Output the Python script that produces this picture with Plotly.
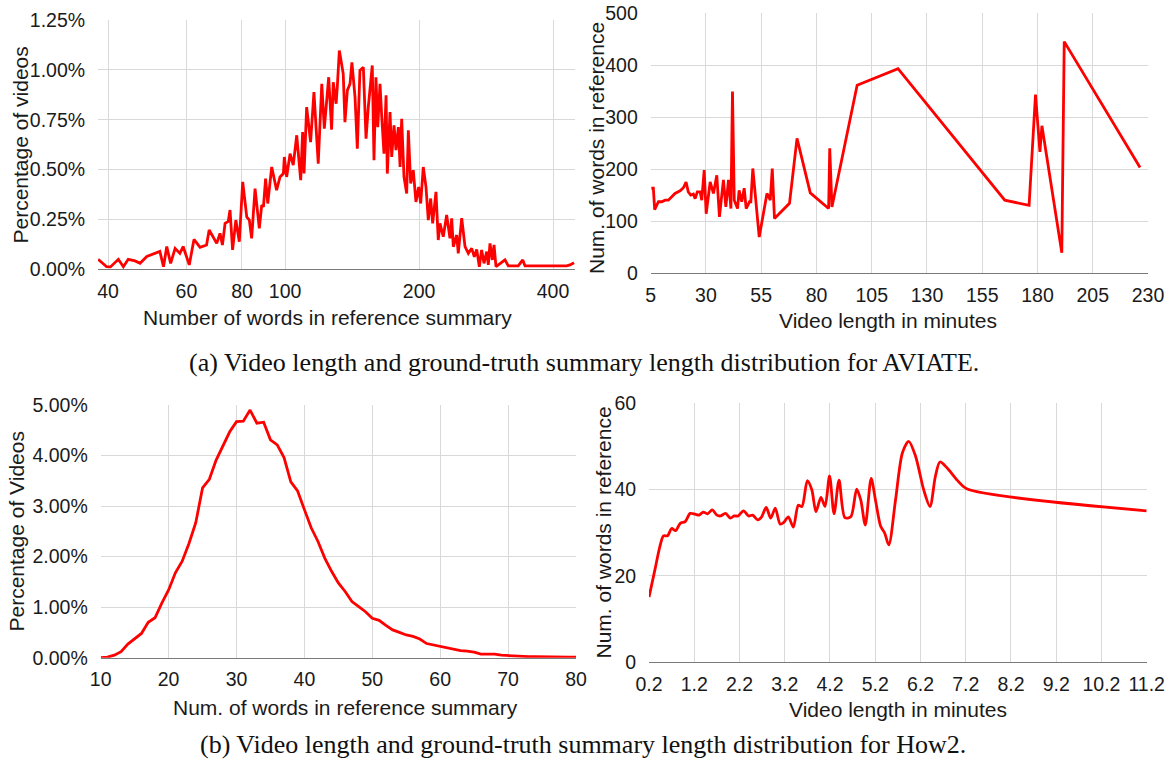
import plotly.graph_objects as go

# ---------------- data ----------------
# (a) AVIATE: summary length distribution
aviate_words = [38, 39.7, 40.5, 42.2, 43.3, 44.4, 46, 47.2, 48.9, 51, 52.3, 53.3, 54.2, 55.3, 56.6, 58, 59,
                60.9, 62.4, 64.4, 66.6, 67.5, 69, 70.2, 71.4, 72.3, 73.3, 74.5,
                75.2, 76.2, 77.5, 78.9, 80.3, 82.0, 83.1, 84.1, 85.6, 87.5, 88.6, 89.4, 90.4, 91.4, 93.3,
                95.7, 97.4, 99.1, 99.6, 100.8, 102.6, 104.3, 106.2, 108.4, 109.5, 110.3, 111.8, 114.1,
                116.1, 118.7, 120.9, 122.5, 125.3, 127.2, 128.3, 130.2, 131.0, 132.4,
                135.1, 136.3, 138.0, 139.9, 141.3, 143.6, 145.3, 147.3, 149.9, 152.0, 153.8, 157.0, 158.4,
                160.0, 161.5, 163.4, 164.9, 166.8, 168.6, 169.7, 172.1, 173.6, 175.7, 177.5, 179.7, 181.3,
                182.8, 185.0, 187.6, 189.2, 191.5, 194.1, 196.8, 199.6, 201.7, 204.4, 207.3, 209.8, 212.4,
                214.6, 218.3, 220.9, 222.9, 226.7, 230.7, 234.7, 236.8, 238.8, 243.0, 245.0,
                249.4, 253.7, 258.1, 262.6, 266.2, 269.5, 273.2, 276.5, 279.9, 283.8, 286.2, 288.7, 292.2,
                294.8, 297.8, 304.1, 312.0, 317.4, 325.7, 334.2, 342.0, 346.1, 361.3, 429.5, 436.8, 446]
aviate_pct = [0.05, 0.013, 0.012, 0.05, 0.013, 0.05, 0.042, 0.03, 0.064, 0.08, 0.09, 0.013, 0.114, 0.03, 0.105, 0.08, 0.114,
              0.022, 0.15, 0.11, 0.122, 0.197, 0.16, 0.13, 0.18, 0.122, 0.23, 0.24,
              0.297, 0.097, 0.247, 0.138, 0.438, 0.263, 0.247, 0.155, 0.405, 0.205, 0.322, 0.313, 0.455, 0.33, 0.513,
              0.397, 0.463, 0.48, 0.563, 0.463, 0.58, 0.522, 0.672, 0.447, 0.688, 0.48, 0.813, 0.638,
              0.888, 0.53, 0.93, 0.705, 0.963, 0.70, 0.938, 0.83, 0.913, 1.097,
              0.98, 0.738, 0.897, 0.93, 1.038, 0.863, 0.605, 0.997, 1.013, 0.655, 0.813, 1.022, 0.547,
              0.963, 0.713, 0.93, 0.763, 0.58, 0.872, 0.48, 0.788, 0.563, 0.722, 0.597, 0.713, 0.513,
              0.755, 0.463, 0.38, 0.697, 0.43, 0.497, 0.338, 0.413, 0.33, 0.513, 0.413, 0.247, 0.355,
              0.23, 0.388, 0.147, 0.23, 0.163, 0.272, 0.155, 0.255, 0.113, 0.172, 0.08,
              0.257, 0.114, 0.08, 0.105, 0.063, 0.1, 0.013, 0.097, 0.03, 0.089, 0.022, 0.13, 0.047,
              0.122, 0.013, 0.027, 0.047, 0.017, 0.017, 0.017, 0.047, 0.017, 0.017, 0.017, 0.022, 0.033]

# (a) AVIATE: video length vs summary words
aviate_len = [5.3, 6.2, 6.8, 8.5, 10, 11.5, 13, 14, 16, 18.3, 19.8, 21, 22, 23.1, 24.3, 25.1, 26.1, 27.4, 28.1,
              29.2, 30.1, 31.9, 33.4, 34.9, 36.1, 37.9, 39, 40.2, 41.3, 42, 42.8, 44.3, 45, 46.2, 47.3, 48.2,
              49.7, 50.3, 51.2, 54.1, 57.6, 59.1, 60, 61, 67.8, 71.2, 77.2, 85.5, 86, 87, 98.4, 116.9, 165.2,
              176.2, 179.1, 181.1, 182, 191, 192.1, 226.4]
aviate_len_words = [163, 163, 122, 137, 137, 140, 140, 145, 153, 158, 164, 175, 156, 150, 152, 143, 156, 156, 140,
                    198, 114, 175, 153, 188, 108, 179, 127, 179, 124, 349, 140, 124, 159, 137, 163, 124,
                    137, 137, 201, 69, 153, 140, 201, 105, 134, 259, 154, 124, 240, 127, 361, 393, 140,
                    130, 343, 233, 283, 39, 445, 203]

# (b) How2: summary length distribution
how2_words = list(range(10, 81))
how2_pct = [0.0, 0.01, 0.05, 0.12, 0.27, 0.38, 0.48, 0.70, 0.79, 1.08,
            1.34, 1.68, 1.91, 2.26, 2.67, 3.36, 3.53, 3.91, 4.19, 4.47,
            4.67, 4.68, 4.90, 4.64, 4.66, 4.31, 4.21, 3.96, 3.48, 3.30,
            2.93, 2.57, 2.30, 1.97, 1.71, 1.48, 1.31, 1.11, 1.01, 0.91,
            0.78, 0.74, 0.64, 0.55, 0.50, 0.45, 0.42, 0.37, 0.28, 0.25,
            0.23, 0.20, 0.17, 0.14, 0.13, 0.11, 0.07, 0.07, 0.07, 0.05,
            0.04, 0.03, 0.03, 0.02, 0.02, 0.015, 0.01, 0.01, 0.01, 0.01, 0.01]

# (b) How2: video length vs summary words
how2_len = [0.2, 0.33, 0.44, 0.52, 0.61, 0.70, 0.79, 0.89, 1.0, 1.11, 1.22, 1.31, 1.40, 1.49, 1.60, 1.70, 1.78,
            1.89, 2.0, 2.08, 2.17, 2.29, 2.40, 2.49, 2.6, 2.69, 2.79, 2.89, 2.99, 3.10, 3.18, 3.28, 3.39,
            3.50, 3.58, 3.70, 3.80, 3.89, 4.0, 4.09, 4.19, 4.29, 4.40, 4.53, 4.66, 4.79, 4.88, 4.98, 5.11,
            5.21, 5.32, 5.41, 5.50, 5.65, 5.80, 5.94, 6.09, 6.27, 6.41, 6.53, 6.63, 6.79, 7.01, 7.22, 11.2]
how2_len_words = [15.1, 21.4, 26.8, 29.3, 29.3, 31.0, 30.5, 32.2, 32.6, 34.5, 34.3, 34.1, 34.8, 34.4, 35.3, 34.1, 33.9,
                  34.5, 33.4, 33.9, 33.9, 35.1, 33.9, 34.1, 33.0, 33.7, 35.9, 33.4, 35.7, 32.0, 32.4, 33.7, 31.3,
                  36.4, 36.1, 42.1, 39.9, 34.9, 38.2, 36.1, 43.2, 34.4, 42.2, 33.5, 33.7, 40.1, 37.6, 31.8, 42.6,
                  37.3, 31.5, 29.9, 27.2, 37.7, 48.5, 51.2, 47.8, 40.0, 36.1, 43.1, 46.4, 45.0, 42.2, 40.2, 35.1]

# tick labels
tl_xticks = [40, 60, 80, 100, 200, 400]
tl_yticks = [0, 0.25, 0.5, 0.75, 1.0, 1.25]
tr_xticks = [5, 30, 55, 80, 105, 130, 155, 180, 205, 230]
tr_yticks = [0, 100, 200, 300, 400, 500]
bl_xticks = [10, 20, 30, 40, 50, 60, 70, 80]
bl_yticks = [0, 1, 2, 3, 4, 5]
br_xticks = [0.2, 1.2, 2.2, 3.2, 4.2, 5.2, 6.2, 7.2, 8.2, 9.2, 10.2, 11.2]
br_yticks = [0, 20, 40, 60]

caption_a = "(a) Video length and ground-truth summary length distribution for AVIATE."
caption_b = "(b) Video length and ground-truth summary length distribution for How2."

# ---------------- figure ----------------
W, H = 1173, 764
RED = "#ff0000"
GRID = "#d9d9d9"
AXLINE = "#7a7a7a"
TXT = "#1a1a1a"
TICKFONT = dict(family="Liberation Sans, Arial, sans-serif", size=19.5, color=TXT)
TITLEFONT = dict(family="Liberation Sans, Arial, sans-serif", size=21, color=TXT)

def px(xp):
    return xp / W

def py(yp):
    return 1 - yp / H

fig = go.Figure()
line = dict(color=RED, width=2.8)
fig.add_trace(go.Scatter(x=aviate_words, y=aviate_pct, mode="lines", line=line, xaxis="x", yaxis="y"))
fig.add_trace(go.Scatter(x=aviate_len, y=aviate_len_words, mode="lines", line=line, xaxis="x2", yaxis="y2"))
fig.add_trace(go.Scatter(x=how2_words, y=how2_pct, mode="lines", line=line, xaxis="x3", yaxis="y3"))
fig.add_trace(go.Scatter(x=how2_len, y=how2_len_words, mode="lines",
                         line=dict(color=RED, width=2.8, shape="spline", smoothing=0.8),
                         xaxis="x4", yaxis="y4"))

def xax(domain, anchor, **kw):
    d = dict(domain=domain, anchor=anchor, automargin=False, showgrid=True, gridcolor=GRID, gridwidth=1,
             showline=True, linecolor=AXLINE, linewidth=1.2, zeroline=False,
             ticks="outside", ticklen=4, tickcolor="rgba(0,0,0,0)", tickfont=TICKFONT)
    d.update(kw)
    return d

def yax(domain, anchor, **kw):
    d = dict(domain=domain, anchor=anchor, automargin=False, showgrid=True, gridcolor=GRID, gridwidth=1,
             showline=False, zeroline=False,
             ticks="outside", ticklen=8, tickcolor="rgba(0,0,0,0)", tickfont=TICKFONT)
    d.update(kw)
    return d

fig.update_layout(
    template="none",
    width=W, height=H, autosize=False, margin=dict(l=0, r=0, t=0, b=0, pad=0),
    paper_bgcolor="white", plot_bgcolor="white", showlegend=False,
    xaxis=xax([px(98), px(575)], "y", type="log", range=[1.5795, 2.6515],
              tickvals=tl_xticks, ticktext=[str(v) for v in tl_xticks]),
    yaxis=yax([py(269.3), py(20)], "x", range=[0, 1.25],
              tickvals=tl_yticks, ticktext=["%.2f%%" % v for v in tl_yticks]),
    xaxis2=xax([px(650.7), px(1148)], "y2", range=[5, 230],
               tickvals=tr_xticks, ticktext=[str(v) for v in tr_xticks]),
    yaxis2=yax([py(273), py(13)], "x2", range=[0, 500],
               tickvals=tr_yticks, ticktext=[str(v) for v in tr_yticks]),
    xaxis3=xax([px(100.7), px(576)], "y3", range=[10, 80],
               tickvals=bl_xticks, ticktext=[str(v) for v in bl_xticks]),
    yaxis3=yax([py(657.7), py(405)], "x3", range=[0, 5],
               tickvals=bl_yticks, ticktext=["%.2f%%" % v for v in bl_yticks]),
    xaxis4=xax([px(649), px(1146.7)], "y4", range=[0.2, 11.2],
               tickvals=br_xticks, ticktext=["%.1f" % v for v in br_xticks]),
    yaxis4=yax([py(662.3), py(403.3)], "x4", range=[0, 60],
               tickvals=br_yticks, ticktext=[str(v) for v in br_yticks]),
)

def ann(text, xp, yp, angle=0, font=TITLEFONT):
    fig.add_annotation(text=text, x=px(xp), y=py(yp), xref="paper", yref="paper",
                       showarrow=False, textangle=angle, font=font,
                       xanchor="center", yanchor="middle")

# axis titles
ann("Percentage of videos", 19.5, 145, -90)
ann("Number of words in reference summary", 327.5, 317.5)
ann("Num. of words in reference", 596, 148, -90)
ann("Video length in minutes", 888, 320)
ann("Percentage of Videos", 16, 531.5, -90)
ann("Num. of words in reference summary", 345, 707)
ann("Num. of words in reference", 603, 532.5, -90)
ann("Video length in minutes", 898, 709)

# captions
CAPFONT = dict(family="Liberation Serif, Times New Roman, serif", size=26, color="#111111")
ann(caption_a, 584, 362, font=CAPFONT)
ann(caption_b, 583, 744, font=CAPFONT)

fig.write_html("out.html")
